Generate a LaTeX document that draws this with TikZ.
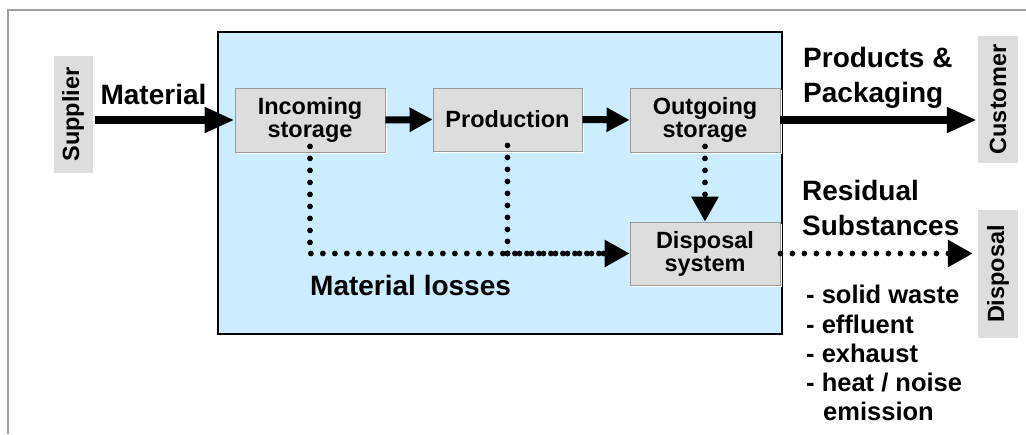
\documentclass[tikz,border=0pt]{standalone}
\usepackage{fontspec}
\setmainfont{Liberation Sans}
\usetikzlibrary{arrows.meta,shadows}
\definecolor{frame}{HTML}{A0A0A0}
\definecolor{bluefill}{HTML}{CCECFF}
\definecolor{boxfill}{HTML}{DDDDDD}
\definecolor{boxline}{HTML}{9A9A9A}
\tikzset{
  procbox/.style={draw=boxline, line width=0.8pt, fill=boxfill, inner sep=0pt,
    minimum width=150pt, minimum height=64pt, align=center,
    font=\bfseries\fontsize{23.5}{23}\selectfont,
    general shadow={fill=white, shadow xshift=2pt, shadow yshift=-2pt}},
  sidebox/.style={fill=boxfill, inner sep=0pt, minimum width=117pt, minimum height=39pt,
    rotate=90, font=\bfseries\fontsize{23.5}{25}\selectfont},
  biglabel/.style={inner sep=0pt, font=\bfseries\fontsize{28}{30}\selectfont},
  listlabel/.style={inner sep=0pt, anchor=base west, font=\bfseries\fontsize{25.5}{29}\selectfont},
  flow/.style={line width=7.5pt, -{Triangle[length=30pt,width=24pt]}},
  smallflow/.style={line width=7pt, -{Triangle[length=23pt,width=23pt]}},
  lossflow/.style={line width=5.8pt, line cap=round, dash pattern=on 0pt off 12pt},
  lossarrow/.style={lossflow, -{Triangle[length=25pt,width=26pt]}}
}
\begin{document}
\begin{tikzpicture}[x=1pt,y=-1pt]
\useasboundingbox (0,0) rectangle (1026,434);
\fill[white] (0,0) rectangle (1026,434);
% outer frame
\draw[frame, line width=2pt] (8,434) -- (8,10) -- (1026,10);
% company box
\draw[black, line width=1.6pt, fill=bluefill] (218,32) rectangle (782,334);
% process boxes
\node[procbox] (inc) at (310,120) {Incoming\\storage};
\node[procbox, minimum width=149pt, minimum height=63pt] (prod) at (507.5,119.5) {Production};
\node[procbox] (out) at (705,120) {Outgoing\\storage};
\node[procbox, minimum height=63pt] (disp) at (705,253.5) {Disposal\\system};
% side boxes (rotated: north = left side, south = right side)
\node[sidebox] (supplier) at (73,114.5) {Supplier};
\node[sidebox, minimum width=127pt, minimum height=40pt] (customer) at (998,99.5) {Customer};
\node[sidebox, minimum width=128pt, minimum height=40pt] (dispbox) at (998,274) {Disposal};
% labels
\node[biglabel, anchor=base] (lmat) at (153.5,104) {Material};
\node[biglabel, anchor=base west] (lprod) at (803,67) {Products \&};
\node[biglabel, anchor=base west] (lpack) at (803,102) {Packaging};
\node[biglabel, anchor=base west] (lres) at (802,200) {Residual};
\node[biglabel, anchor=base west] (lsub) at (802,235) {Substances};
\node[biglabel, anchor=base west] (lloss) at (310,295) {Material losses};
\node[listlabel] (l1) at (806,303) {- solid waste};
\node[listlabel] (l2) at (806,333) {- effluent};
\node[listlabel] (l3) at (806,362) {- exhaust};
\node[listlabel] (l4) at (806,391) {- heat / noise};
\node[listlabel] (l5) at (823,420) {emission};
% material flows
\coordinate (matstart) at ([xshift=2pt]supplier.south |- inc.west);
\draw[flow] (matstart) -- (inc.west);
\draw[smallflow] (inc.east) -- (prod.west);
\draw[smallflow] (prod.east) -- (out.west);
\draw[flow] (out.east) -- ([xshift=-1pt]customer.north |- out.east);
% losses
\draw[lossflow] ([yshift=6pt]inc.south) -- (inc.south |- disp.west) -- ([xshift=-20pt]disp.west);
\draw[lossflow] ([yshift=6pt]prod.south) -- (prod.south |- disp.west);
\draw[lossarrow] (prod.south |- disp.west) -- (disp.west);
\draw[lossarrow] ([yshift=6pt]out.south) -- (disp.north);
\draw[lossarrow] (disp.east) -- ([xshift=-5pt]dispbox.north |- disp.east);
\end{tikzpicture}
\end{document}
